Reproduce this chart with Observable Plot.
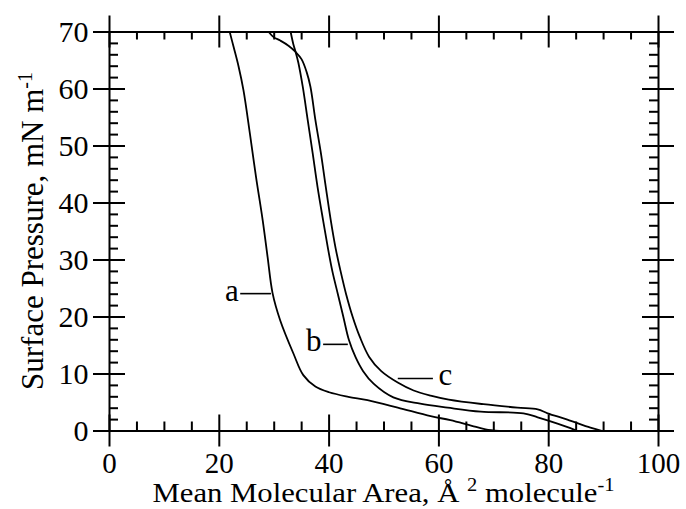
<!DOCTYPE html>
<html><head><meta charset="utf-8">
<script src="https://cdn.jsdelivr.net/npm/d3@7"></script>
<script src="https://cdn.jsdelivr.net/npm/@observablehq/plot@0.6"></script>
<style>html,body{margin:0;padding:0;background:#fff}svg{display:block}</style>
</head><body><div id="chart"></div>
<script>
// Curve a
const aArea =     [21.9, 22.6, 23.5, 24.4, 25.6, 26.7, 27.9, 28.8, 29.7, 31.1, 33.5, 35.3, 37.5, 40.0, 43.5, 47.0, 52.5, 58.5, 62.1, 66.0, 68.5, 71.0];
const aPressure = [70.0, 67.4, 64.0, 59.8, 52.0, 44.5, 37.0, 30.5, 24.2, 19.4, 13.6, 9.8, 7.8, 6.8, 6.0, 5.4, 4.1, 2.6, 1.9, 0.9, 0.3, 0.0];
// Curve b
const bArea =     [33.0, 33.5, 33.9, 34.4, 35.2, 36.1, 37.0, 37.9, 38.9, 39.8, 40.6, 41.6, 42.6, 43.6, 44.8, 46.2, 48.1, 51.7, 56.6, 61.6, 67.6, 75.4, 78.0, 81.6, 84.5, 85.2];
const bPressure = [70.0, 67.8, 66.5, 64.6, 60.4, 54.6, 48.8, 42.8, 37.0, 32.0, 28.0, 24.0, 20.0, 16.0, 13.0, 10.5, 8.3, 5.9, 4.8, 4.1, 3.4, 3.1, 2.4, 1.3, 0.3, 0.0];
// Curve c
const cArea =     [29.0, 29.9, 31.1, 32.6, 33.9, 35.0, 35.9, 36.6, 37.5, 38.5, 39.4, 40.3, 41.2, 42.1, 43.1, 44.3, 45.6, 47.3, 49.5, 52.5, 55.4, 58.5, 61.8, 68.1, 74.3, 78.0, 79.8, 83.4, 87.6, 89.8];
const cPressure = [70.0, 69.1, 68.5, 67.6, 66.5, 65.2, 63.0, 60.4, 54.6, 48.8, 42.8, 37.0, 32.0, 28.0, 24.0, 20.0, 16.5, 13.0, 10.5, 8.5, 7.1, 6.2, 5.5, 4.7, 4.1, 3.8, 3.1, 2.0, 0.6, 0.0];

const xMajor = [0, 20, 40, 60, 80, 100];
const xMinor = [5, 10, 15, 25, 30, 35, 45, 50, 55, 65, 70, 75, 85, 90, 95];
const yMajor = [0, 10, 20, 30, 40, 50, 60, 70];
const yMinor = [2, 4, 6, 8, 12, 14, 16, 18, 22, 24, 26, 28, 32, 34, 36, 38, 42, 44, 46, 48, 52, 54, 56, 58, 62, 64, 66, 68];

// Curve labels (data units)
const labelNames = ["a", "b", "c"];
const labelX1 = [23.9, 39.0, 52.6];
const labelX2 = [29.5, 43.5, 59.0];
const labelY = [24.1, 15.2, 9.2];

const rows = [
  ...aArea.map((v, i) => ({film: "a", area: v, pressure: aPressure[i]})),
  ...bArea.map((v, i) => ({film: "b", area: v, pressure: bPressure[i]})),
  ...cArea.map((v, i) => ({film: "c", area: v, pressure: cPressure[i]}))
];
const labels = labelNames.map((n, i) => ({name: n, x1: labelX1[i], x2: labelX2[i], y: labelY[i]}));

const W = 686, H = 509, mL = 109, mR = 28, mT = 31.5, mB = 78.5;
const iw = W - mL - mR, ih = H - mT - mB;
const font = "'Liberation Serif', 'Times New Roman', serif";

const chart = Plot.plot({
  width: W, height: H,
  marginLeft: mL, marginRight: mR, marginTop: mT, marginBottom: mB,
  style: {fontFamily: font, fontSize: "29px", background: "#fff", color: "#000"},
  x: {domain: [0, 100], label: null},
  y: {domain: [0, 70], label: null},
  marks: [
    Plot.line(rows, {x: "area", y: "pressure", z: "film", stroke: "#000", strokeWidth: 1.8, curve: "catmull-rom"}),
    Plot.frame({stroke: "#000", strokeWidth: 2}),
    Plot.tickX(xMajor, {x: d => d, insetTop: ih - 16, insetBottom: -16, stroke: "#000", strokeWidth: 2}),
    Plot.tickX(xMajor, {x: d => d, insetTop: -16, insetBottom: ih - 16, stroke: "#000", strokeWidth: 2}),
    Plot.tickX(xMinor, {x: d => d, insetTop: ih - 9, insetBottom: 0, stroke: "#000", strokeWidth: 2}),
    Plot.tickX(xMinor, {x: d => d, insetTop: 0, insetBottom: ih - 8, stroke: "#000", strokeWidth: 2}),
    Plot.tickY(yMajor, {y: d => d, insetLeft: -16, insetRight: iw - 16, stroke: "#000", strokeWidth: 2}),
    Plot.tickY(yMajor, {y: d => d, insetLeft: iw - 16, insetRight: -16, stroke: "#000", strokeWidth: 2}),
    Plot.tickY(yMinor, {y: d => d, insetLeft: 0, insetRight: iw - 9, stroke: "#000", strokeWidth: 2}),
    Plot.tickY(yMinor, {y: d => d, insetLeft: iw - 9, insetRight: 0, stroke: "#000", strokeWidth: 2}),
    Plot.axisX({ticks: xMajor, tickSize: 0, tickPadding: 21, label: null, fontSize: 29, fill: "#000"}),
    Plot.axisY({ticks: yMajor, tickSize: 0, tickPadding: 21, label: null, fontSize: 30, fill: "#000"}),
    Plot.ruleY(labels, {y: "y", x1: "x1", x2: "x2", stroke: "#000", strokeWidth: 1.6}),
    Plot.text(labels.filter(d => d.name !== "c"), {x: "x1", y: "y", text: "name", textAnchor: "end", dx: -2, dy: -3, fontSize: 31, fill: "#000"}),
    Plot.text(labels.filter(d => d.name === "c"), {x: "x2", y: "y", text: "name", textAnchor: "start", dx: 5, dy: -3, fontSize: 31, fill: "#000"})
  ]
});

// Axis titles with superscripts
const svg = d3.select(chart);
const xt = svg.append("text")
  .attr("x", mL + iw / 2).attr("y", 502)
  .attr("text-anchor", "middle").attr("font-family", font).attr("font-size", 27).attr("fill", "#000")
  .attr("textLength", 462).attr("lengthAdjust", "spacingAndGlyphs");
xt.append("tspan").text("Mean Molecular Area, Å ");
xt.append("tspan").attr("dy", -11).attr("font-size", 18).text("2");
xt.append("tspan").attr("dy", 11).text(" molecule");
xt.append("tspan").attr("dy", -11).attr("font-size", 18).text("-1");

const yt = svg.append("text")
  .attr("transform", `translate(43,${mT + ih / 2}) rotate(-90)`)
  .attr("text-anchor", "middle").attr("font-family", font).attr("font-size", 31).attr("fill", "#000");
yt.append("tspan").text("Surface Pressure, mN m");
yt.append("tspan").attr("dy", -11).attr("font-size", 20).text("-1");

document.getElementById("chart").appendChild(chart);
</script>
</body></html>
